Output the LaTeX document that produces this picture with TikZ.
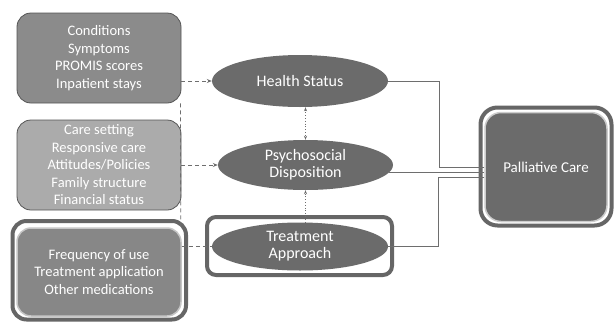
\documentclass[tikz,border=0pt]{standalone}
\usepackage{fontspec}
\setmainfont{Carlito}
\usetikzlibrary{shapes.geometric,arrows.meta}
\definecolor{boxA}{HTML}{8B8B8B}
\definecolor{boxB}{HTML}{ABABAB}
\definecolor{boxC}{HTML}{878787}
\definecolor{ellfill}{HTML}{6B6B6B}
\definecolor{framec}{HTML}{666666}
\definecolor{edgec}{HTML}{555555}
\definecolor{linec}{HTML}{6E6E6E}
\begin{document}
\begin{tikzpicture}[x=1pt,y=-1pt,
  txt/.style={text=white,font=\fontsize{14.5}{17.5}\selectfont,align=center},
  lbox/.style={txt,draw=edgec,line width=0.8pt,rounded corners=14pt,inner sep=0pt},
  ell/.style={txt,font=\fontsize{16}{17}\selectfont,ellipse,fill=ellfill,inner sep=0pt},
  frameband/.style={draw=framec,line width=4pt,fill=white},
  dashline/.style={dash pattern=on 4pt off 3pt,draw=linec,line width=0.8pt},
  dotline/.style={dotted,draw=linec,line width=0.8pt},
  solidline/.style={draw=linec,line width=0.9pt},
  tipend/.style={-{Stealth[length=5pt,width=4pt]}}
]
\useasboundingbox (0,0) rectangle (614,322);
% frames
\draw[frameband,rounded corners=14pt] (12.5,221) rectangle (186,319.5);
\draw[frameband,rounded corners=9pt] (207,217) rectangle (392,275);
\draw[frameband,rounded corners=17pt] (480.5,107.5) rectangle (611.5,225.5);
% boxes
\node[lbox,fill=boxA,minimum width=164pt,minimum height=90pt] (b1) at (99,58)
  {Conditions\\Symptoms\\PROMIS scores\\Inpatient stays};
\node[lbox,fill=boxB,minimum width=164pt,minimum height=90pt] (b2) at (99,165)
  {Care setting\\Responsive care\\Attitudes/Policies\\Family structure\\Financial status};
\node[lbox,fill=boxC,draw=gray!45,line width=1.5pt,minimum width=164pt,minimum height=88pt] (b3) at (99,272)
  {Frequency of use\\Treatment application\\Other medications};
\node[lbox,fill=ellfill,draw=gray!40,line width=1.5pt,rounded corners=16pt,minimum width=122pt,minimum height=109pt,font=\fontsize{15}{17}\selectfont] (pc) at (546,167)
  {Palliative Care};
% ellipses
\node[ell,minimum width=176pt,minimum height=52pt] (hs) at (300,81) {Health Status};
\node[ell,minimum width=175pt,minimum height=50pt] (ps) at (305.5,165) {Psychosocial\\Disposition};
\node[ell,minimum width=176pt,minimum height=48pt] (ta) at (300,246.5) {Treatment\\Approach};
% dashed connectors
\draw[dashline,tipend] (b1.east |- hs.west) -- (hs.west);
\draw[dashline,tipend] (b2.east) -- (ps.west);
\draw[dashline] (b3.east |- ta.west) -- (ta.west);
\draw[dashline] ([xshift=-1pt]b1.south east) -- ([xshift=-1pt]b3.north east);
% dotted connectors
\draw[dotline,{Stealth[length=4pt,width=3pt]}-{Stealth[length=4pt,width=3pt]}] (ps.north |- hs.south) -- (ps.north);
\draw[dotline,-{Stealth[length=4pt,width=3pt]}] (ps.south |- ta.north) -- (ps.south);
% solid connectors
\draw[solidline] (hs.east) -- (439,81) |- (pc.west);
\draw[solidline] (ps.-5 |- 0,172) -- ([yshift=-5pt]pc.west);
\draw[solidline] (ta.east) -- (438,246.5) |- ([yshift=-10pt]pc.west);
\end{tikzpicture}
\end{document}
